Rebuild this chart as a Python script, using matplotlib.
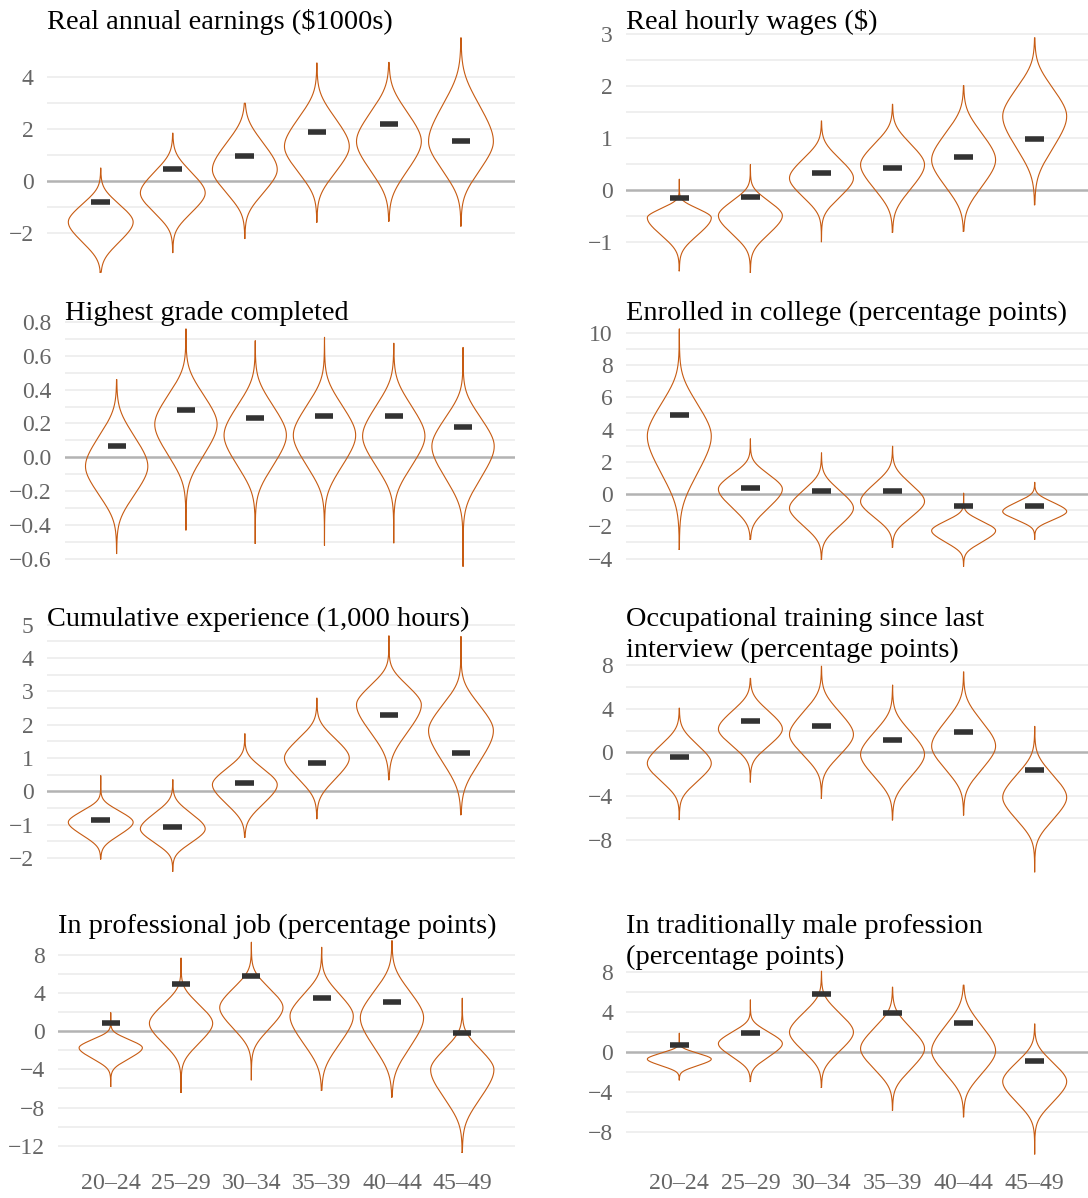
import numpy as np
import matplotlib.pyplot as plt

plt.rcParams['font.family'] = ['Liberation Serif', 'DejaVu Serif']

ages = ['20–24', '25–29', '30–34', '35–39', '40–44', '45–49']

# per panel: point estimate, violin mode (widest point), where the body narrows
# into a thin tail above / below, and the lowest / highest value of the tails
earn_est = [-0.79, 0.47, 0.97, 1.89, 2.19, 1.54]
earn_mode = [-1.57, -0.45, 0.45, 1.34, 1.53, 1.53]
earn_top = [-0.2, 1.15, 2.48, 3.5, 3.76, 4.3]
earn_bot = [-3.1, -1.97, -1.34, -0.65, -0.7, -0.7]
earn_lo = [-3.5, -2.74, -2.2, -1.57, -1.53, -1.72]
earn_hi = [0.51, 1.85, 3.0, 4.55, 4.57, 5.52]

wage_est = [-0.16, -0.14, 0.32, 0.41, 0.62, 0.97]
wage_mode = [-0.54, -0.5, 0.22, 0.48, 0.57, 1.41]
wage_top = [-0.19, 0.06, 0.96, 1.27, 1.59, 2.48]
wage_bot = [-1.21, -1.21, -0.51, -0.45, -0.45, 0.19]
wage_lo = [-1.56, -1.59, -1.0, -0.82, -0.8, -0.29]
wage_hi = [0.2, 0.48, 1.32, 1.64, 2.0, 2.92]

grade_est = [0.067, 0.28, 0.23, 0.246, 0.246, 0.18]
grade_mode = [-0.054, 0.195, 0.13, 0.13, 0.125, 0.065]
grade_top = [0.30, 0.54, 0.48, 0.48, 0.48, 0.40]
grade_bot = [-0.39, -0.17, -0.23, -0.23, -0.23, -0.31]
grade_lo = [-0.57, -0.43, -0.51, -0.52, -0.506, -0.645]
grade_hi = [0.46, 0.76, 0.69, 0.71, 0.675, 0.65]

coll_est = [4.93, 0.37, 0.19, 0.19, -0.75, -0.75]
coll_mode = [3.6, 0.31, -0.87, -0.46, -2.27, -1.08]
coll_top = [7.55, 2.14, 1.31, 1.73, -1.08, 0.06]
coll_bot = [-0.98, -2.0, -3.06, -2.43, -3.68, -2.12]
coll_lo = [-3.43, -2.8, -4.05, -3.3, -4.47, -2.8]
coll_hi = [10.25, 3.43, 2.56, 2.97, 0.06, 0.73]

exper_est = [-0.85, -1.07, 0.25, 0.85, 2.29, 1.15]
exper_mode = [-0.93, -1.13, 0.2, 1.0, 2.6, 1.82]
exper_top = [-0.25, -0.2, 1.15, 2.15, 3.75, 3.35]
exper_bot = [-1.7, -1.95, -0.95, -0.25, 0.95, -0.05]
exper_lo = [-2.03, -2.4, -1.38, -0.82, 0.35, -0.7]
exper_hi = [0.47, 0.35, 1.73, 2.8, 4.67, 4.65]

train_est = [-0.39, 2.91, 2.42, 1.15, 1.88, -1.58]
train_mode = [-1.0, 2.15, 1.64, -0.18, 0.58, -4.12]
train_top = [2.39, 5.42, 5.73, 3.9, 5.12, -0.03]
train_bot = [-4.27, -0.94, -2.15, -4.27, -3.67, -8.2]
train_lo = [-6.15, -2.7, -4.21, -6.18, -5.73, -10.94]
train_hi = [4.06, 6.79, 7.9, 6.18, 7.39, 2.39]

prof_est = [0.88, 4.88, 5.72, 3.5, 3.08, -0.18]
prof_mode = [-1.75, 0.81, 2.46, 1.58, 1.4, -4.04]
prof_top = [0.0, 4.74, 6.5, 6.1, 6.84, 0.2]
prof_bot = [-4.04, -3.33, -1.93, -4.2, -4.74, -10.0]
prof_lo = [-5.79, -6.42, -5.09, -6.2, -6.9, -12.7]
prof_hi = [1.93, 7.65, 9.3, 8.77, 9.47, 3.44]

male_est = [0.72, 1.91, 5.86, 3.88, 2.89, -0.86]
male_mode = [-0.69, 0.86, 2.0, 0.36, 0.13, -2.93]
male_top = [0.5, 3.16, 5.8, 4.47, 5.13, 0.86]
male_bot = [-2.0, -1.78, -1.78, -3.75, -4.4, -7.04]
male_lo = [-2.76, -2.93, -3.52, -5.79, -6.45, -10.16]
male_hi = [1.9, 5.23, 8.1, 6.5, 6.7, 2.83]

W, H = 1088, 1198
ORANGE = '#c75b12'
TICK = '#666666'

panels = [
    (['Real annual earnings ($1000s)'], earn_est, earn_mode, earn_top, earn_bot, earn_lo, earn_hi,
     [-2, 0, 2, 4], [-1, 1, 3], '{:.0f}', (46.7, 26, 515, 284), 29),
    (['Real hourly wages ($)'], wage_est, wage_mode, wage_top, wage_bot, wage_lo, wage_hi,
     [-1, 0, 1, 2, 3], [-0.5, 0.5, 1.5, 2.5], '{:.0f}', (626, 26, 1088, 284), 29),
    (['Highest grade completed'], grade_est, grade_mode, grade_top, grade_bot, grade_lo, grade_hi,
     [-0.6, -0.4, -0.2, 0.0, 0.2, 0.4, 0.6, 0.8], [-0.5, -0.3, -0.1, 0.1, 0.3, 0.5, 0.7],
     '{:.1f}', (64.7, 317, 515, 578), 320),
    (['Enrolled in college (percentage points)'], coll_est, coll_mode, coll_top, coll_bot, coll_lo,
     coll_hi, [-4, -2, 0, 2, 4, 6, 8, 10], [-3, -1, 1, 3, 5, 7, 9], '{:.0f}',
     (626, 317, 1088, 578), 320),
    (['Cumulative experience (1,000 hours)'], exper_est, exper_mode, exper_top, exper_bot,
     exper_lo, exper_hi, [-2, -1, 0, 1, 2, 3, 4, 5], [-1.5, -0.5, 0.5, 1.5, 2.5, 3.5, 4.5],
     '{:.0f}', (46.7, 624, 515, 883), 626),
    (['Occupational training since last', 'interview (percentage points)'], train_est, train_mode,
     train_top, train_bot, train_lo, train_hi, [-8, -4, 0, 4, 8], [-6, -2, 2, 6], '{:.0f}',
     (626, 656, 1088, 882), 626),
    (['In professional job (percentage points)'], prof_est, prof_mode, prof_top, prof_bot,
     prof_lo, prof_hi, [-12, -8, -4, 0, 4, 8], [-10, -6, -2, 2, 6], '{:.0f}',
     (58, 930, 515, 1163), 933),
    (['In traditionally male profession', '(percentage points)'], male_est, male_mode, male_top,
     male_bot, male_lo, male_hi, [-8, -4, 0, 4, 8], [-6, -2, 2, 6], '{:.0f}',
     (626, 962, 1088, 1163), 933),
]


def violin_width(y, mode, top, bot, k=7.0, e=0.28):
    # soft diamond: rounded peak, straight flanks, thin tail past the neck
    reach = 0.95 * np.where(y >= mode, top - mode, mode - bot)
    u = np.sqrt(((y - mode) / reach) ** 2 + e ** 2)
    return 0.45 * np.logaddexp(0, k * (1 - u)) / np.logaddexp(0, k * (1 - e))


fig = plt.figure(figsize=(W / 100, H / 100), dpi=100)

for i, (title, est, mode, top, bot, lo, hi, majors, minors, fmt, box, base) in enumerate(panels):
    l, t, r, b = box
    ax = fig.add_axes([l / W, 1 - b / H, (r - l) / W, (b - t) / H])
    pos = np.arange(1, len(ages) + 1)

    for k in range(len(ages)):
        y = np.linspace(lo[k], hi[k], 500)
        hw = violin_width(y, mode[k], top[k], bot[k])
        xs = np.concatenate([pos[k] - hw, (pos[k] + hw)[::-1], [pos[k] - hw[0]]])
        ys = np.concatenate([y, y[::-1], [y[0]]])
        ax.plot(xs, ys, color=ORANGE, lw=0.8, zorder=3)
    ax.hlines(est, pos - 0.13, pos + 0.13, color='#333333', lw=4, capstyle='butt', zorder=4)

    ax.margins(y=0.05)
    ax.set_xlim(0.25, 6.75)
    for v in majors + minors:
        if v == 0:
            continue
        ax.axhline(v, color='#ebebeb', lw=1.1, zorder=1)
    ax.axhline(0, color='#b3b3b3', lw=1.8, zorder=2)

    ax.set_yticks(majors)
    ax.set_yticklabels([fmt.format(v).replace('-', '−') for v in majors])
    ax.tick_params(axis='y', length=0, pad=9.4, labelsize=17, labelcolor=TICK)
    if i >= 6:
        ax.set_xticks(pos)
        ax.set_xticklabels(ages)
        ax.tick_params(axis='x', length=0, pad=7, labelsize=17.2, labelcolor=TICK)
    else:
        ax.set_xticks([])
    for s in ax.spines.values():
        s.set_visible(False)

    for j, line in enumerate(title):
        fig.text(l / W, 1 - (base + 31 * j) / H, line, fontsize=20.4, va='baseline',
                 ha='left', color='black')

fig.savefig('out.png', dpi=100)
